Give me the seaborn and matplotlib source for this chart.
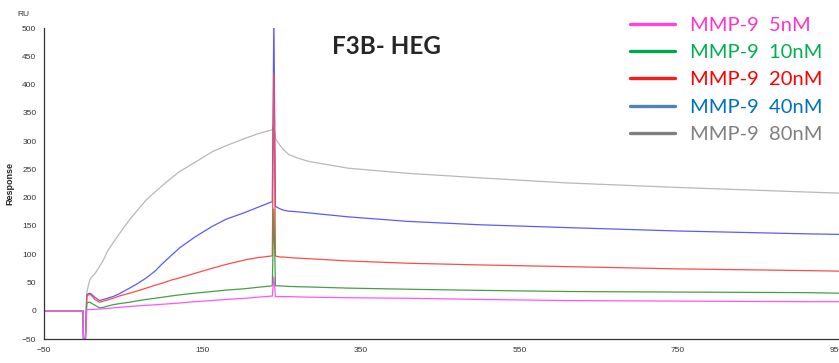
import numpy as np
import pandas as pd
import matplotlib
import matplotlib.pyplot as plt
import seaborn as sns
from matplotlib.lines import Line2D
from matplotlib.ticker import MultipleLocator

matplotlib.use("Agg")

# sensorgram readings, RU vs time (s)
time = [-50, -1, 0, 2, 4, 6, 8, 10, 14, 20, 25, 30, 37, 45, 58, 68, 79, 90, 100, 110,
        121, 140, 162, 180, 204, 220, 238, 240, 242, 244, 248, 252, 259, 270, 284, 334,
        409, 500, 610, 750, 911, 953]

gray_80 = [0, 0, -60, -60, 32, 45, 55, 60, 65, 78, 90, 105, 120, 136, 161, 178, 196, 210,
           222, 234, 246, 262, 281, 292, 305, 313, 320, 330, 305, 300, 292, 285, 276, 270,
           264, 252, 243, 235, 226, 218, 210, 208]
blue_40 = [0, 0, -60, -60, 28, 30, 31, 29, 24, 18, 20, 22, 25, 30, 40, 48, 58, 70,
           84, 97, 111, 130, 149, 162, 174, 183, 193, 520, 185, 183, 180, 178, 176, 175,
           173, 166, 158, 152, 147, 141, 136, 135]
red_20 = [0, 0, -60, -60, 25, 28, 29, 27, 20, 15, 17, 19, 22, 26, 31, 35, 40, 45,
          49, 54, 58, 66, 75, 82, 90, 94, 97, 420, 97, 96, 95, 95, 94, 93,
          92, 88, 84, 81, 78, 74, 71, 70]
green_10 = [0, 0, -60, -60, 13, 15, 15, 13, 10, 5, 6, 8, 10.6, 12.5, 15, 17.5, 20, 22,
            24, 26, 28, 31, 34, 36.5, 39, 41.5, 44, 180, 44, 44, 44, 43.5, 43, 42.5,
            42, 40, 38, 36, 34, 33, 32, 31]
magenta_5 = [0, 0, -60, -60, 2, 2, 2, 2, 2.5, 3, 3.5, 4, 5, 6, 7.5, 8.5, 9.5, 10.5,
             11.5, 12.5, 13.6, 16, 18, 20, 22, 24, 26, 60, 25, 25, 25, 25, 25, 24.5,
             24, 23, 22, 20, 18, 17, 16, 16]

series = ["MMP-9  80nM", "MMP-9  40nM", "MMP-9  20nM", "MMP-9  10nM", "MMP-9  5nM"]
line_colors = ["#b8b8b8", "#5a5aff", "#ff4a4a", "#45a045", "#ff55ff"]

df = pd.concat([
    pd.DataFrame({"Time": time, "Response": vals, "conc": name})
    for name, vals in zip(series, [gray_80, blue_40, red_20, green_10, magenta_5])
])

sns.set_style("white")
plt.rcParams["font.family"] = ["Liberation Sans", "DejaVu Sans"]

fig = plt.figure(figsize=(8.39, 3.63), dpi=100)
ax = fig.add_axes([44 / 839, 24 / 363, 795 / 839, 311 / 363])

sns.lineplot(data=df, x="Time", y="Response", hue="conc", palette=line_colors,
             hue_order=series, sort=False, estimator=None, legend=False,
             linewidth=0.9, ax=ax)

ax.set_xlim(-50, 953)
ax.set_ylim(-50, 500)
ax.set_xticks(np.arange(-50, 951, 200))
ax.set_xticks(np.arange(50, 951, 200), minor=True)
ax.yaxis.set_major_locator(MultipleLocator(50))
ax.tick_params(axis="both", which="both", direction="inout", labelsize=6,
               labelcolor="#333333", color="#333333", width=0.8)
ax.tick_params(axis="both", which="major", length=4)
ax.tick_params(axis="x", which="minor", length=3)
for side in ["top", "right"]:
    ax.spines[side].set_visible(False)
for side in ["left", "bottom"]:
    ax.spines[side].set_color("#333333")
    ax.spines[side].set_linewidth(0.9)

ax.set_xlabel("Time", fontsize=6.5, fontweight="bold")
ax.set_ylabel("Response", fontsize=6.5, fontweight="bold")
ax.xaxis.set_label_coords(0.513, -0.09)
ax.yaxis.set_label_coords(-0.037, 0.5)
fig.text(23 / 839, 1 - 14 / 363, "RU", fontsize=6, color="#333333",
         ha="center", va="center")

fig.text(387 / 839, 1 - 47 / 363, "F3B- HEG", fontsize=17.5, fontweight="bold",
         family="Lato", ha="center", va="center")

# legend, order as in the picture
leg_labels = ["MMP-9  5nM", "MMP-9  10nM", "MMP-9  20nM", "MMP-9  40nM", "MMP-9  80nM"]
leg_lines = ["#ff44dd", "#00a650", "#ff1a1a", "#4f81bd", "#7f7f7f"]
leg_text = ["#ff33cc", "#00b050", "#ff0000", "#0070c0", "#808080"]
handles = [Line2D([0], [0], color=c, linewidth=2.4) for c in leg_lines]
leg = fig.legend(handles, leg_labels, loc="upper left",
                 bbox_to_anchor=(630 / 839, 1 - 17 / 363), frameon=False,
                 borderpad=0, borderaxespad=0,
                 prop={"family": "Lato", "size": 14.5}, labelcolor=leg_text,
                 handlelength=2.25, handletextpad=0.72, labelspacing=0.5)

fig.savefig("out.png", dpi=100)
